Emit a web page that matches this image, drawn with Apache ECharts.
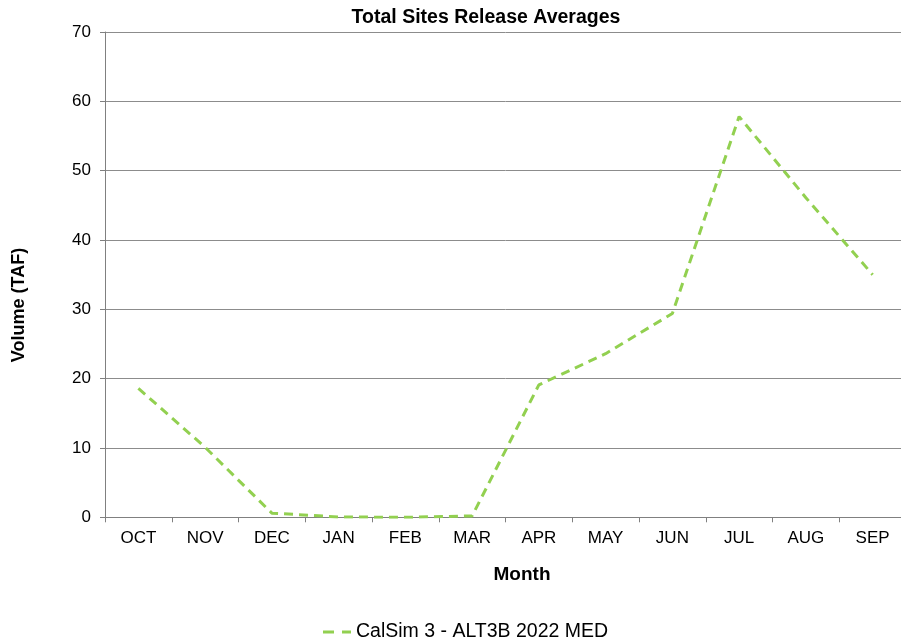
<!DOCTYPE html>
<html>
<head>
<meta charset="utf-8">
<script src="https://cdn.jsdelivr.net/npm/echarts@6/dist/echarts.min.js"></script>
<style>
html,body{margin:0;padding:0;background:#fff;overflow:hidden;}
#c{width:906px;height:638px;}
</style>
</head>
<body>
<div id="c"></div>
<script>
var categories = ["OCT","NOV","DEC","JAN","FEB","MAR","APR","MAY","JUN","JUL","AUG","SEP"];
var seriesName = "CalSim 3 - ALT3B 2022 MED";
var values = [18.6, 10.1, 0.6, 0.05, 0.0, 0.2, 19.1, 23.6, 29.4, 57.8, 46.1, 35.0];
var yTicks = {min: 0, max: 70, interval: 10};
var chartTitle = 'Total Sites Release Averages';
var xName = 'Month';
var yName = 'Volume (TAF)';

var chart = echarts.init(document.getElementById('c'), null, {renderer: 'canvas'});
var font = "Liberation Sans, Arial, sans-serif";
chart.setOption({
  animation: false,
  backgroundColor: '#fff',
  title: {
    text: chartTitle,
    left: 481, top: 3, textAlign: 'center',
    textStyle: {fontFamily: font, fontSize: 19.5, fontWeight: 'bold', color: '#000'}
  },
  legend: {
    data: [seriesName],
    left: 318, top: 617,
    itemWidth: 28, itemHeight: 3, itemGap: 4,
    icon: 'path://M0,0 h11 v3 h-11 z M19,0 h9 v3 h-9 z',
    textStyle: {fontFamily: font, fontSize: 19.5, color: '#000'}
  },
  graphic: [
    {type: 'text', x: 522, y: 575, style: {text: xName, fontFamily: font, fontSize: 19, fontWeight: 'bold', fill: '#000', align: 'center', verticalAlign: 'middle'}},
    {type: 'text', x: 19, y: 305, rotation: Math.PI / 2, style: {text: yName, fontFamily: font, fontSize: 18, fontWeight: 'bold', fill: '#000', align: 'center', verticalAlign: 'middle'}}
  ],
  grid: {left: 105, top: 32, width: 801, height: 485.3, containLabel: false},
  xAxis: {
    type: 'category',
    data: categories,
    boundaryGap: true,
    axisLine: {lineStyle: {color: '#808080', width: 1}},
    axisTick: {show: true, length: 5, inside: false, lineStyle: {color: '#808080'}},
    axisLabel: {fontFamily: font, fontSize: 17, color: '#000', margin: 13}
  },
  yAxis: {
    type: 'value',
    min: yTicks.min, max: yTicks.max, interval: yTicks.interval,
    axisLine: {show: true, lineStyle: {color: '#808080', width: 1}},
    axisTick: {show: true, length: 5, lineStyle: {color: '#808080'}},
    axisLabel: {fontFamily: font, fontSize: 17, color: '#000', margin: 14},
    splitLine: {show: true, lineStyle: {color: '#8c8c8c', width: 1}}
  },
  series: [{
    name: seriesName,
    type: 'line',
    data: values,
    symbol: 'none',
    smooth: false,
    lineStyle: {color: '#92D050', width: 3, type: [9, 6]},
    itemStyle: {color: '#92D050'}
  }]
});
</script>
</body>
</html>
